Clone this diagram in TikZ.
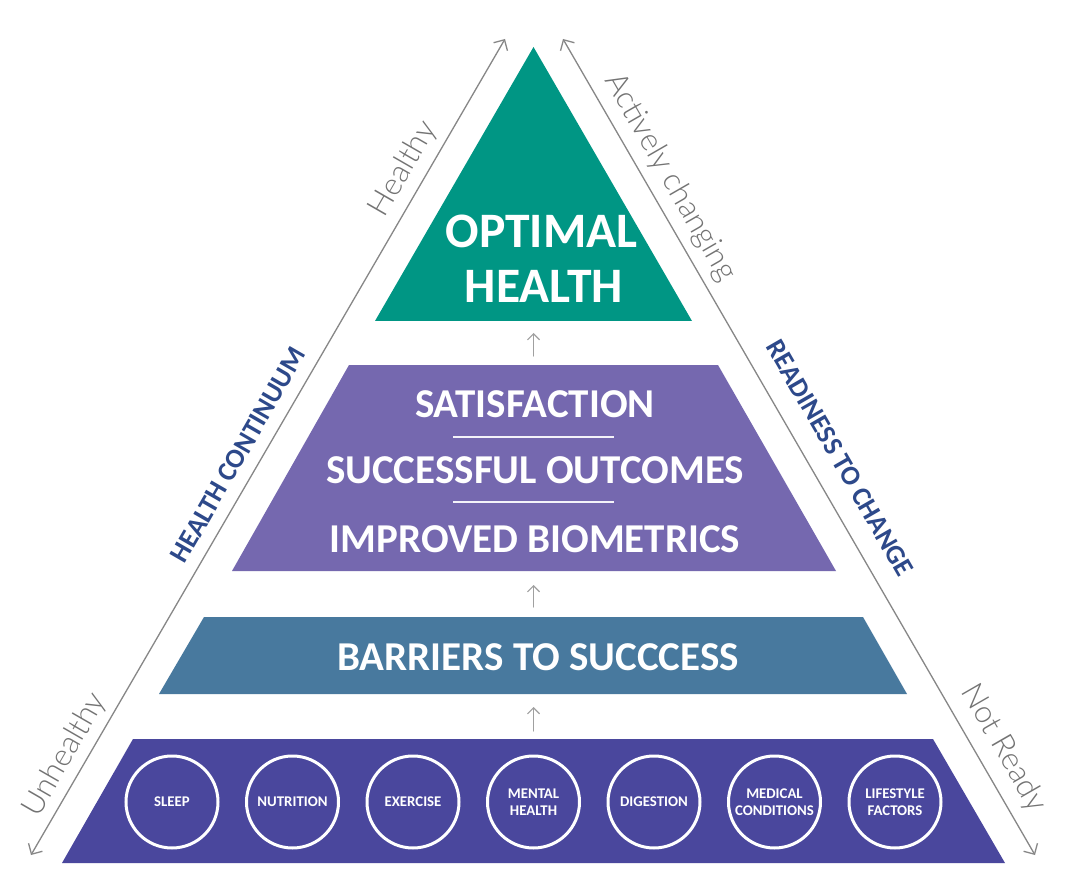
\documentclass[tikz,border=0pt]{standalone}
\usepackage{fontspec}
\setmainfont{Carlito}
\newfontfamily\lightfont{Lato Light}
\usetikzlibrary{arrows.meta}
\definecolor{cGreen}{RGB}{0,150,132}
\definecolor{cPurple}{RGB}{117,104,175}
\definecolor{cBlue}{RGB}{72,121,158}
\definecolor{cIndigo}{RGB}{74,71,157}
\definecolor{cNavy}{RGB}{45,73,138}
\definecolor{cGray}{RGB}{135,135,135}
\definecolor{cTGray}{RGB}{115,115,115}
\definecolor{cLGray}{RGB}{160,160,160}
\tikzset{
  sidearrow/.style={draw=cGray, line width=0.65pt, line cap=round,
    {Straight Barb[length=4pt,width=8pt]}-{Straight Barb[length=4pt,width=8pt]}},
  uparrow/.style={draw=cLGray, line width=0.6pt, line cap=round,
    -{Straight Barb[length=3pt,width=6pt]}},
  bigtxt/.style={text=white, font=\bfseries\fontsize{20.5}{24}\selectfont, anchor=base, inner sep=0pt},
  toptxt/.style={text=white, font=\bfseries\fontsize{24.8}{28}\selectfont, anchor=base, inner sep=0pt},
  sidetxt/.style={text=cTGray, font=\lightfont\fontsize{15.5}{18}\selectfont, inner sep=0pt},
  navytxt/.style={text=cNavy, font=\bfseries\fontsize{13.7}{16}\selectfont, inner sep=0pt},
  factor/.style={circle, draw=white, line width=1.5pt, minimum size=46pt, inner sep=0pt,
    text=white, align=center, font=\bfseries\fontsize{7.4}{8.7}\selectfont},
  sepline/.style={draw=white!92!cPurple, line width=0.75pt}
}
\begin{document}
\begin{tikzpicture}[x=0.5pt,y=-0.5pt]
\useasboundingbox (0,0) rectangle (1078,888);
\fill[white] (0,0) rectangle (1078,888);

% side axis coordinates
\coordinate (Lbot) at (31,855);
\coordinate (Ltop) at (505,39);
\coordinate (Rtop) at (563,39);
\coordinate (Rbot) at (1035,855);
\draw[sidearrow] (Lbot) -- (Ltop);
\draw[sidearrow] (Rtop) -- (Rbot);

% layer shapes
\fill[cGreen] (533.5,47) -- (692,321) -- (375,321) -- cycle;
\fill[cPurple] (349,365) -- (718,365) -- (836,571) -- (232,571) -- cycle;
\fill[cBlue] (204,617) -- (863,617) -- (907,694) -- (159,694) -- cycle;
\fill[cIndigo] (133,739) -- (933,739) -- (1005,863) -- (62,863) -- cycle;

% top
\node[toptxt] (optimal) at (541.5,248) {OPTIMAL};
\node[toptxt] (health) at (544,303) {HEALTH};

% middle
\node[bigtxt] (satisf) at (535,417) {SATISFACTION};
\coordinate (s1a) at (453,437); \coordinate (s1b) at (614,437);
\draw[sepline] (s1a) -- (s1b);
\node[bigtxt] (outcomes) at (535,483) {SUCCESSFUL OUTCOMES};
\coordinate (s2a) at (453,502); \coordinate (s2b) at (614,502);
\draw[sepline] (s2a) -- (s2b);
\node[bigtxt] (biometrics) at (535,552) {IMPROVED BIOMETRICS};

% barriers
\node[bigtxt] (barriers) at (538,670) {BARRIERS TO SUCCCESS};

% factors
\node[factor] (sleep) at (172,802) {SLEEP};
\node[factor] (nutrition) at (292.5,802) {NUTRITION};
\node[factor] (exercise) at (413,802) {EXERCISE};
\node[factor] (mental) at (533.5,802) {MENTAL\\HEALTH};
\node[factor] (digestion) at (654,802) {DIGESTION};
\node[factor] (medical) at (774.5,802) {MEDICAL\\CONDITIONS};
\node[factor] (lifestyle) at (895,802) {LIFESTYLE\\FACTORS};

% up arrows
\coordinate (a1s) at (533.5,356); \coordinate (a1e) at (533.5,333);
\coordinate (a2s) at (533.5,607); \coordinate (a2e) at (533.5,585);
\coordinate (a3s) at (533.5,731); \coordinate (a3e) at (533.5,707);
\draw[uparrow] (a1s) -- (a1e);
\draw[uparrow] (a2s) -- (a2e);
\draw[uparrow] (a3s) -- (a3e);

% side labels
\node[sidetxt, rotate=60] (healthy) at (403.5,169) {Healthy};
\node[sidetxt, rotate=60] (unhealthy) at (65,755) {Unhealthy};
\node[sidetxt, rotate=-60] (active) at (670,177.5) {Actively changing};
\node[sidetxt, rotate=-60] (notready) at (1003.5,748.5) {Not Ready};
\node[navytxt, rotate=60] (continuum) at (238,455) {HEALTH CONTINUUM};
\node[navytxt, rotate=-60] (readiness) at (840,458) {READINESS TO CHANGE};
\end{tikzpicture}
\end{document}
